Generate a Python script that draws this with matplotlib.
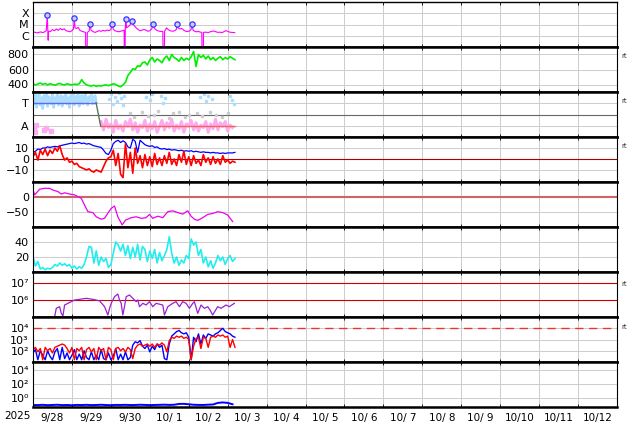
import numpy as np
import matplotlib
matplotlib.use("Agg")
import matplotlib.pyplot as plt

plt.rcParams['font.family'] = ['DejaVu Sans']

# ---------------- data (time in days since 2025-09-28 00:00) ----------------
date_labels = ["9/28", "9/29", "9/30", "10/ 1", "10/ 2", "10/ 3", "10/ 4", "10/ 5",
               "10/ 6", "10/ 7", "10/ 8", "10/ 9", "10/10", "10/11", "10/12"]
year_label = "2025"

# GOES X-ray (log10 W/m2)
xray_t = [0.00, 0.05, 0.10, 0.15, 0.20, 0.25, 0.30, 0.34, 0.367, 0.38, 0.39, 0.40, 0.45, 0.50,
          0.55, 0.60, 0.65, 0.70, 0.75, 0.80, 0.85, 0.90, 0.95, 1.00, 1.04, 1.059, 1.08, 1.12,
          1.16, 1.20, 1.25, 1.30, 1.35, 1.355, 1.36, 1.39, 1.395, 1.44, 1.469, 1.49, 1.55, 1.60,
          1.65, 1.70, 1.75, 1.80, 1.85, 1.90, 1.95, 2.00, 2.033, 2.06, 2.10, 2.15, 2.20, 2.25,
          2.30, 2.34, 2.345, 2.365, 2.37, 2.385, 2.40, 2.44, 2.48, 2.531, 2.56, 2.60, 2.65, 2.70,
          2.75, 2.80, 2.85, 2.90, 2.95, 3.00, 3.05, 3.085, 3.11, 3.15, 3.20, 3.25, 3.30, 3.335,
          3.34, 3.375, 3.38, 3.43, 3.47, 3.52, 3.58, 3.64, 3.68, 3.700, 3.72, 3.78, 3.82, 3.87,
          3.92, 3.97, 4.02, 4.06, 4.085, 4.11, 4.15, 4.20, 4.25, 4.30, 4.335, 4.34, 4.375, 4.38,
          4.45, 4.50, 4.55, 4.60, 4.65, 4.70, 4.75, 4.80, 4.85, 4.90, 4.95, 5.00, 5.05, 5.10, 5.18]
xray_v = [-5.72, -5.68, -5.75, -5.70, -5.66, -5.72, -5.65, -5.55, -4.18, -5.5, -6.4, -5.6, -5.62,
          -5.45, -5.55, -5.40, -5.52, -5.35, -5.48, -5.38, -5.55, -5.60, -5.65, -5.55, -5.4, -4.45,
          -5.3, -5.35, -5.25, -5.5, -5.6, -5.65, -5.7, -7.3, -7.3, -7.3, -5.7, -5.6, -4.93, -5.5,
          -5.65, -5.7, -5.62, -5.55, -5.6, -5.52, -5.58, -5.5, -5.55, -5.45, -4.93, -5.4, -5.55,
          -5.6, -5.65, -5.6, -5.55, -5.5, -7.3, -7.3, -5.4, -4.51, -5.3, -5.2, -5.1, -4.72, -4.9,
          -5.1, -5.3, -5.45, -5.55, -5.5, -5.45, -5.5, -5.6, -5.55, -5.4, -4.93, -5.3, -5.45,
          -5.55, -5.6, -5.62, -5.62, -7.3, -7.3, -5.6, -5.3, -5.45, -5.55, -5.6, -5.55, -5.45,
          -4.93, -5.3, -5.4, -5.35, -5.5, -5.6, -5.62, -5.58, -5.45, -4.93, -5.5, -5.6, -5.65,
          -5.62, -5.68, -5.7, -7.3, -7.3, -5.7, -5.68, -5.72, -5.65, -5.6, -5.58, -5.65, -5.7,
          -5.68, -5.72, -5.65, -5.55, -5.6, -5.68, -5.7, -5.72]
flare_t = [0.367, 1.059, 1.469, 2.033, 2.385, 2.531, 3.085, 3.700, 4.085]
flare_v = [-4.18, -4.45, -4.93, -4.93, -4.51, -4.72, -4.93, -4.93, -4.93]

# solar wind speed, 1/16-day steps
speed = [410, 395, 405, 420, 400, 415, 395, 410, 400, 390, 405, 415, 400, 395, 410, 400, 395,
         405, 400, 410, 465, 420, 395, 385, 380, 390, 375, 385, 380, 390, 395, 385, 395, 410,
         400, 380, 370, 395, 430, 520, 560, 610, 600, 650, 640, 690, 700, 660, 730, 760, 700,
         740, 720, 690, 750, 780, 720, 800, 760, 740, 710, 760, 720, 750, 730, 770, 840, 640,
         800, 760, 790, 740, 780, 730, 760, 720, 750, 770, 730, 760, 740, 770, 750, 730]

# IMF sector
sector_t = [0.0, 1.62, 1.74, 5.18]
sector_v = [1, 1, -1, -1]
sky_early = [1.5, 0.9, 1.7, 0.6, 1.3, 1.8, 0.8, 1.4, 0.5, 1.6, 1.1, 1.8, 0.7, 1.5, 1.2, 0.9,
             1.7, 0.6, 1.4, 1.0, 1.8, 0.8, 1.3, 1.6, 0.7, 1.5, 1.1, 1.7, 0.9, 1.4, 0.6, 1.6,
             1.2, 1.8, 0.8, 1.5, 1.0, 1.7, 0.7, 1.3, 1.6, 0.9, 1.4, 1.8, 1.1, 0.8, 1.5, 1.2,
             1.7, 0.9, 1.4, 1.6, 1.0]
pink_late = [-0.6, -1.3, -0.4, -1.1, -0.8, -1.5, -0.5, -1.2, -0.9, -1.4, -0.6, -1.0, -0.4,
             -1.3, -0.7, -1.5, -0.9, -1.1, -0.5, -1.4, -0.8, -1.2, -0.6, -1.5, -1.0, -0.5,
             -1.3, -0.7, -1.1, -0.4, -1.4, -0.9, -1.2, -0.6, -1.5, -0.8, -1.0, -0.5, -1.3,
             -0.7, -1.4, -0.9, -1.1, -0.6, -1.5, -0.8, -1.2, -0.4, -1.3, -0.7, -1.0, -0.6,
             -1.4, -0.9, -1.1]
pink_early_t = [0.02, 0.05, 0.08, 0.28, 0.33, 0.45]
pink_early_v = [-1.2, -1.5, -0.9, -1.3, -1.1, -1.4]
sky_late_t = [1.95, 2.0, 2.05, 2.1, 2.15, 2.2, 2.25, 2.3, 2.35, 2.9, 3.0, 3.05, 3.3, 3.35,
              3.4, 4.3, 4.4, 4.45, 4.5, 4.6, 5.05, 5.1, 5.15]
sky_late_v = [1.3, 1.7, 0.9, 1.5, 1.1, 1.8, 1.4, 0.8, 1.6, 1.5, 1.2, 1.7, 1.6, 1.0, 1.4, 1.5,
              1.7, 1.1, 1.6, 1.3, 1.6, 1.2, 0.9]
gray_t = [2.5, 2.6, 2.8, 2.95, 3.1, 3.2, 3.5, 3.6, 3.75, 3.9, 4.0, 4.2, 4.35, 4.55, 4.7, 4.85, 5.0]
gray_v = [0.1, -0.2, 0.2, -0.1, 0.0, 0.3, -0.3, 0.1, 0.2, -0.2, 0.0, 0.1, -0.1, 0.2, 0.0, -0.2, 0.1]

# IMF Bt and Bz (nT), 1/16-day steps
bt = [6, 7, 9, 8.5, 10, 10, 11, 10.5, 11, 11.5, 11, 12, 12.5, 13, 13.5, 14, 14.5, 14, 14.5, 15,
      14, 14.5, 13.5, 14, 13, 12, 11.5, 11, 10.5, 8, 5, 4, 8, 14, 16, 17, 15, 16.5, 15, 11, 10,
      18, 16, 6, 17, 15, 13, 12, 11.5, 12, 10.5, 11, 9.5, 9, 9.5, 8.5, 9, 8, 8.5, 8, 7.5, 8, 7,
      7.5, 7, 7.5, 6.5, 7, 6.5, 6, 6.5, 6, 6, 5.5, 6, 5.5, 5.5, 5, 5.5, 5, 5.5, 5.5, 5.5, 6]
bz = [2, 6, -1, 8, 4, 9, 3, 8, 5, 10, 7, 12, 4, -1, 1, -3, -2, -5, -4, -7, -8, -9, -10, -9,
      -11, -12, -10, -11, -12, -7, -2, 1, 2, 8, -6, 5, -14, -17, 14, -8, 6, -13, 10, -4, 3,
      -8, 4, -6, 2, -7, 5, -5, 1, -6, 3, -4, 6, -5, 0, -6, 4, -3, 7, -5, 2, -6, 3, -4, -1, -6,
      4, -3, 1, -5, 2, -4, 0, -5, 3, -3, -1, -4, -2, -3]

# Dst (nT)
dst_t = [0.000, 0.043, 0.171, 0.299, 0.427, 0.513, 0.641, 0.726, 0.812, 0.940, 1.068, 1.154,
         1.239, 1.325, 1.410, 1.538, 1.624, 1.752, 1.838, 1.923, 2.009, 2.094, 2.179, 2.291,
         2.376, 2.521, 2.650, 2.778, 2.906, 2.991, 3.077, 3.205, 3.333, 3.462, 3.590, 3.718,
         3.846, 3.974, 4.060, 4.145, 4.231, 4.359, 4.487, 4.615, 4.744, 4.872, 5.000, 5.128]
dst_v = [23, 7, 26, 29, 29, 23, 18, 10, 14, 10, 7, 1, -4, -27, -49, -52, -66, -74, -71, -54,
         -38, -30, -66, -93, -77, -69, -66, -71, -69, -58, -71, -64, -69, -49, -46, -52, -57,
         -46, -64, -74, -78, -69, -58, -55, -49, -52, -60, -82]

# cyan index, 1/16-day steps
cyan = [20, 8, 14, 4, 6, 3, 5, 4, 6, 10, 8, 12, 9, 11, 8, 10, 5, 8, 4, 7, 5, 10, 20, 34, 33,
        12, 28, 9, 20, 14, 18, 6, 10, 25, 40, 36, 28, 37, 22, 35, 18, 33, 20, 37, 16, 34, 30,
        14, 28, 18, 30, 12, 26, 15, 22, 30, 47, 25, 12, 20, 9, 16, 12, 22, 18, 44, 36, 40, 22,
        30, 12, 20, 7, 15, 5, 12, 22, 15, 20, 10, 18, 22, 14, 18]

# electron flux (log10)
elec_t = [0.556, 0.598, 0.684, 0.726, 0.769, 0.812, 0.897, 0.983, 1.068, 1.197, 1.368, 1.538,
          1.709, 1.838, 1.923, 1.966, 2.009, 2.094, 2.179, 2.222, 2.265, 2.308, 2.350, 2.393,
          2.479, 2.564, 2.650, 2.692, 2.735, 2.821, 2.906, 2.991, 3.077, 3.162, 3.333, 3.376,
          3.462, 3.590, 3.675, 3.761, 3.846, 3.932, 4.017, 4.103, 4.145, 4.231, 4.316, 4.402,
          4.487, 4.547, 4.615, 4.744, 4.829, 4.957, 5.043, 5.171]
elec_v = [5.0, 5.5, 5.6, 5.2, 5.05, 5.7, 5.8, 5.9, 6.0, 6.04, 6.1, 6.04, 5.95, 5.6, 5.1, 5.5,
          5.8, 6.2, 6.36, 6.0, 5.8, 5.1, 5.6, 6.2, 6.3, 6.1, 5.9, 6.0, 5.6, 5.8, 5.7, 5.9, 5.6,
          5.8, 5.7, 5.1, 5.6, 5.8, 5.9, 5.6, 5.9, 5.8, 5.5, 5.8, 5.9, 5.2, 5.7, 5.5, 5.6, 5.4,
          5.1, 5.6, 5.5, 5.7, 5.6, 5.8]

# proton / electron flux (log10), 1/16-day steps
flux_red = [2.1, 2.3, 1.9, 2.2, 1.2, 2.3, 2.0, 2.2, 1.8, 2.3, 2.4, 2.5, 2.6, 2.5, 2.2, 1.8,
            2.3, 1.2, 2.2, 2.0, 2.3, 1.2, 2.1, 2.3, 1.9, 2.2, 1.2, 2.3, 2.0, 2.2, 1.2, 2.3, 2.1,
            1.2, 2.2, 2.3, 2.0, 2.2, 1.9, 2.3, 2.1, 1.3, 2.2, 2.5, 2.6, 2.4, 2.5, 2.6, 2.4, 2.6,
            2.3, 2.6, 2.5, 2.7, 2.5, 1.9, 2.9, 3.2, 3.1, 3.3, 3.2, 3.3, 3.1, 3.2, 3.0, 1.2, 2.4,
            3.1, 3.2, 2.2, 3.2, 3.1, 2.3, 3.2, 3.3, 3.2, 3.4, 3.3, 3.4, 3.2, 3.3, 2.3, 3.0, 2.3]
flux_blue = [1.8, 2.1, 1.2, 2.0, 1.6, 1.2, 2.0, 1.5, 1.2, 1.9, 2.2, 1.2, 2.3, 1.3, 1.8, 1.2,
             1.6, 2.1, 1.2, 1.7, 1.2, 2.0, 1.4, 1.2, 1.9, 1.2, 1.6, 1.2, 2.1, 1.3, 1.2, 1.8,
             1.2, 1.5, 2.2, 1.2, 1.7, 1.2, 1.9, 1.2, 1.4, 2.5, 2.8, 2.7, 2.9, 2.4, 2.2, 2.5,
             1.9, 2.4, 2.1, 2.6, 2.3, 2.5, 1.3, 1.2, 2.6, 3.3, 3.5, 3.7, 3.8, 3.6, 3.5, 3.6,
             3.2, 1.2, 3.2, 2.8, 3.5, 2.6, 3.4, 3.1, 3.5, 3.4, 3.3, 3.5, 3.6, 3.8, 4.0, 3.7,
             3.6, 3.5, 3.3, 3.2]

# bottom panel (log10), 1/8-day steps
low_blue = [-1.0, -1.02, -0.98, -1.03, -1.0, -0.97, -1.02, -1.0, -1.04, -0.99, -1.01, -0.98,
            -1.02, -1.0, -0.97, -1.01, -1.03, -0.99, -1.0, -0.98, -1.01, -1.0, -0.97, -0.99,
            -1.02, -1.0, -0.98, -0.96, -0.99, -0.97, -0.85, -0.84, -0.9, -0.97, -0.99, -1.0,
            -0.96, -0.93, -0.7, -0.64, -0.7, -0.9]

# ---------------- figure ----------------
W, H = 634, 424
fig = plt.figure(figsize=(W / 100, H / 100), dpi=100)
x0, x1 = 33, 617
top0, ph = 2, 45
axes = []
for k in range(9):
    ax = fig.add_axes([x0 / W, 1 - (top0 + ph * (k + 1)) / H, (x1 - x0) / W, ph / H])
    ax.set_xlim(0, 15)
    ax.set_xticks(range(16))
    ax.tick_params(axis='x', which='major', direction='in', length=2, labelbottom=False,
                   top=True, bottom=True, width=0.6)
    ax.tick_params(axis='y', length=0, pad=3, labelsize=8)
    ax.grid(True, color='#cccccc', lw=0.7)
    ax.set_axisbelow(True)
    for s in ('left', 'right'):
        ax.spines[s].set_linewidth(0.8)
    ax.spines['top'].set_linewidth(1.0 if k == 0 else 1.8)
    ax.spines['bottom'].set_linewidth(1.8)
    axes.append(ax)

def tgrid(n, step):
    return np.arange(n) * step

def pow10(n):
    sup = {0: '\u2070', 2: '\u00b2', 3: '\u00b3', 4: '\u2074', 6: '\u2076', 7: '\u2077'}
    return '10' + sup[n]

# panel 1: X-ray
ax = axes[0]
ax.set_ylim(-7, -3)
ax.set_yticks([-4, -5, -6], ['X', 'M', 'C'])
ax.plot(xray_t, xray_v, color='#ff00ff', lw=0.8)
ax.plot(flare_t, flare_v, 'o', ms=3.8, mfc='#ccccff', mec='#3333ff', mew=0.9)

# panel 2: speed
ax = axes[1]
ax.set_ylim(300, 900)
ax.set_yticks([400, 600, 800])
ax.plot(tgrid(len(speed), 1 / 16), speed, color='#00ee00', lw=1.2)

# panel 3: sector
ax = axes[2]
ax.set_ylim(-1.9, 1.9)
ax.set_yticks([1, -1], ['T', 'A'])
ax.axhline(0, color='#666666', lw=0.8)
ax.plot(tgrid(len(sky_early), 1 / 32), sky_early, color='#aaddff', lw=2.0)
ax.plot(1.75 + tgrid(len(pink_late), 1 / 16), pink_late, color='#ffaaee', lw=2.2)
ax.plot(pink_early_t, pink_early_v, 's', ms=2.5, color='#ffaaee')
ax.plot(sky_late_t, sky_late_v, 's', ms=2, color='#aaddff')
ax.plot(gray_t, gray_v, 's', ms=2, color='#cccccc')
seg_colors = ['#6666ee', '#557755', '#ee6666']
for i in range(3):
    ax.plot(sector_t[i:i + 2], sector_v[i:i + 2], color=seg_colors[i], lw=1.0)

# panel 4: Bt, Bz
ax = axes[3]
ax.set_ylim(-21, 20)
ax.set_yticks([10, 0, -10], ['10', '0', '\u221210'])
ax.axhline(0, color='#aa0000', lw=0.8)
ax.plot(tgrid(len(bt), 1 / 16), bt, color='#0000ff', lw=0.9)
ax.plot(tgrid(len(bz), 1 / 16), bz, color='#ff0000', lw=1.2)

# panel 5: Dst
ax = axes[4]
ax.set_ylim(-100, 50)
ax.set_yticks([0, -50], ['0', '\u221250'])
ax.axhline(0, color='#cc6666', lw=1.5)
ax.plot(dst_t, dst_v, color='#ee00ee', lw=0.9)

# panel 6: cyan
ax = axes[5]
ax.set_ylim(0, 60)
ax.set_yticks([20, 40])
ax.plot(tgrid(len(cyan), 1 / 16), cyan, color='#22eeee', lw=1.2)

# panel 7: electrons
ax = axes[6]
ax.set_ylim(4.98, 7.68)
ax.set_yticks([6, 7], [pow10(6), pow10(7)])
ax.axhline(6, color='#cc0000', lw=0.8)
ax.axhline(7, color='#cc0000', lw=0.8)
ax.plot(elec_t, elec_v, color='#9922cc', lw=0.9)

# panel 8: fluxes
ax = axes[7]
ax.set_ylim(1, 5)
ax.set_yticks([2, 3, 4], [pow10(2), pow10(3), pow10(4)])
ax.axhline(4, color='#ee3333', lw=1.0, dashes=(6, 4))
ax.plot(tgrid(len(flux_blue), 1 / 16), flux_blue, color='#0000ff', lw=1.0)
ax.plot(tgrid(len(flux_red), 1 / 16), flux_red, color='#ff0000', lw=1.0)

# panel 9
ax = axes[8]
ax.set_ylim(-1.29, 5.14)
ax.set_yticks([0, 2, 4], [pow10(0), pow10(2), pow10(4)])
ax.plot(tgrid(len(low_blue), 1 / 8), low_blue, color='#0000ff', lw=1.4)
ax.set_xticks(np.arange(15) + 0.5, date_labels, minor=True)
ax.tick_params(axis='x', which='minor', length=0, labelsize=7.5, pad=4)

fig.text(17 / W, 1 - 416 / H, year_label, fontsize=7.5, ha='center', va='center')
for yp in [56, 101, 146, 284, 327]:
    fig.text(621 / W, 1 - yp / H, 'rt', fontsize=5, color='#333333', ha='left', va='center')

fig.savefig('out.png', dpi=100)
